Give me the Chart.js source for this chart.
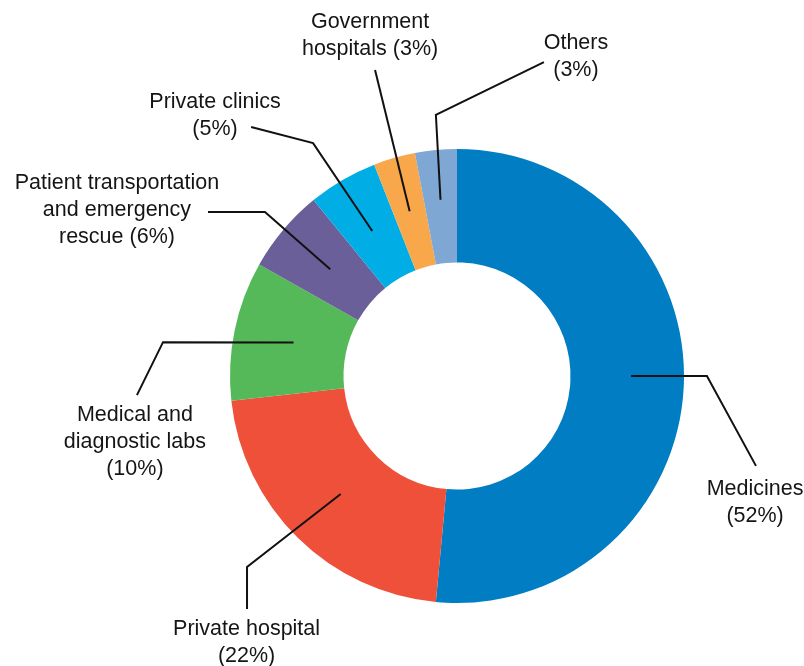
<!DOCTYPE html>
<html>
<head>
<meta charset="utf-8">
<script src="https://cdn.jsdelivr.net/npm/chart.js@4.4.1/dist/chart.umd.min.js"></script>
<style>
  html, body { margin: 0; padding: 0; background: #fff; }
  #wrap { width: 804px; height: 666px; position: relative; }
</style>
</head>
<body>
<div id="wrap"><canvas id="chart"></canvas></div>
<script>
// slices, clockwise from 12 o'clock
const categories = [
  'Medicines',
  'Private hospital',
  'Medical and diagnostic labs',
  'Patient transportation and emergency rescue',
  'Private clinics',
  'Government hospitals',
  'Others',
];
const shares = [52, 22, 10, 6, 5, 3, 3];
const colors = ['#007dc3', '#ef503a', '#55b859', '#6a5f98', '#00ade4', '#f8a84b', '#7fa7d3'];

// how each label text is broken over lines ('%' = the share)
const labelLines = [
  ['Medicines', '(%)'],
  ['Private hospital', '(%)'],
  ['Medical and', 'diagnostic labs', '(%)'],
  ['Patient transportation', 'and emergency', 'rescue (%)'],
  ['Private clinics', '(%)'],
  ['Government', 'hospitals (%)'],
  ['Others', '(%)'],
];

// leader line layout, in units of the outer radius from the centre
// r = where the line starts on the slice (da = nudge from mid angle, degrees),
// elbow/end = line bends, text = centre of first text line
const leaders = [
  { r: 0.767, da: -2.7, elbow: [1.101, 0], end: [1.317, 0.396], text: [1.313, 0.498] },
  { r: 0.73, elbow: [-0.925, 0.841], end: [-0.925, 1.026], text: [-0.927, 1.115] },
  { r: 0.735, elbow: [-1.295, -0.149], end: [-1.410, 0.084], text: [-1.419, 0.172] },
  { r: 0.73, elbow: [-0.846, -0.722], end: [-1.097, -0.722], text: [-1.498, -0.850] },
  { r: 0.74, elbow: [-0.634, -1.026], end: [-0.907, -1.097], text: [-1.066, -1.207] },
  { r: 0.755, elbow: null, end: [-0.361, -1.348], text: [-0.383, -1.559] },
  { r: 0.78, elbow: [-0.093, -1.150], end: [0.383, -1.383], text: [0.524, -1.467] },
];

const leaderPlugin = {
  id: 'leaders',
  afterDraw(chart) {
    const ctx = chart.ctx;
    const meta = chart.getDatasetMeta(0);
    ctx.save();
    meta.data.forEach((arc, i) => {
      const p = arc.getProps(['x', 'y', 'startAngle', 'endAngle', 'outerRadius'], true);
      const R = p.outerRadius;
      const L = leaders[i];
      const mid = (p.startAngle + p.endAngle) / 2 + (L.da || 0) * Math.PI / 180;
      const sx = p.x + Math.cos(mid) * R * L.r;
      const sy = p.y + Math.sin(mid) * R * L.r;

      ctx.strokeStyle = '#111';
      ctx.lineWidth = 2;
      ctx.beginPath();
      ctx.moveTo(sx, sy);
      if (L.elbow) ctx.lineTo(p.x + L.elbow[0] * R, p.y + L.elbow[1] * R);
      ctx.lineTo(p.x + L.end[0] * R, p.y + L.end[1] * R);
      ctx.stroke();

      ctx.fillStyle = '#151515';
      ctx.font = '21.5px "Liberation Sans", Arial, sans-serif';
      ctx.textAlign = 'center';
      ctx.textBaseline = 'middle';
      const tx = p.x + L.text[0] * R;
      const ty = p.y + L.text[1] * R;
      labelLines[i].forEach((line, k) => {
        ctx.fillText(line.replace('%', shares[i] + '%'), tx, ty + k * 26.8);
      });
    });
    ctx.restore();
  },
};

new Chart(document.getElementById('chart'), {
  type: 'doughnut',
  data: {
    labels: categories,
    datasets: [{
      data: shares,
      backgroundColor: colors,
      borderWidth: 0,
      hoverOffset: 0,
    }],
  },
  options: {
    responsive: true,
    maintainAspectRatio: false,
    animation: false,
    cutout: '50%',
    layout: { padding: { top: 149, bottom: 63, left: 230, right: 120 } },
    plugins: {
      legend: { display: false },
      tooltip: { enabled: false },
    },
  },
  plugins: [leaderPlugin],
});
</script>
</body>
</html>
